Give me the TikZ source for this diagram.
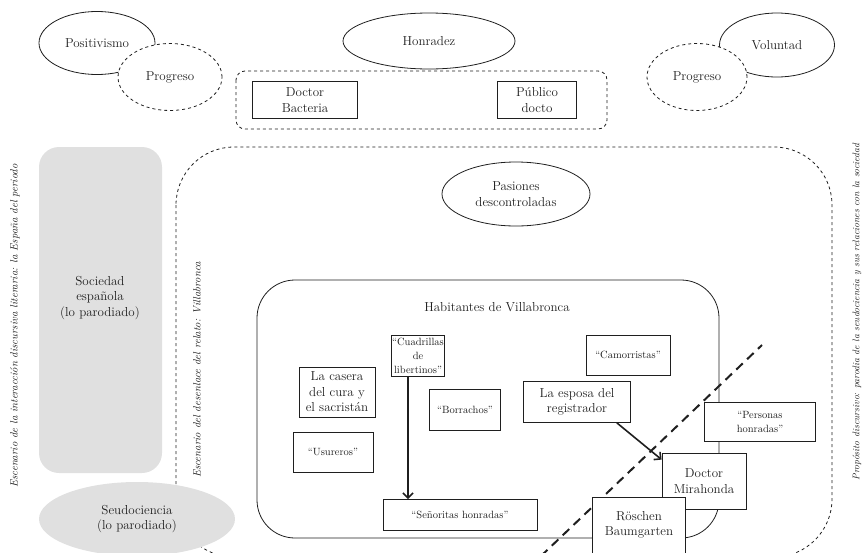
\documentclass[tikz,border=0pt]{standalone}
\usepackage{fontspec}
\usepackage{tikz}
\usetikzlibrary{arrows.meta, positioning, shapes.geometric}
\definecolor{paleGray}{gray}{0.88}
\definecolor{ink}{gray}{0.12}

\begin{document}
\begin{tikzpicture}[x=1pt, y=-1pt,
      bigfont/.style={font=\fontsize{13}{15.5}\selectfont},
      smallfont/.style={font=\fontsize{10.5}{14}\selectfont},
      oval/.style={ellipse, draw=ink, line width=.8pt, inner sep=0pt, align=center, text=ink, bigfont},
      dashoval/.style={oval, dashed, fill=white},
      card/.style={rectangle, draw=ink, line width=.8pt, fill=white, inner sep=1pt, align=center, text=ink},
      side/.style={rotate=90, text=ink, font=\fontsize{10.6}{12}\selectfont\itshape},
      arrow/.style={-{Straight Barb[length=5pt, width=10pt]}, line width=1.6pt, draw=ink}
    ]
    \useasboundingbox (0,0) rectangle (862,552);

    % ideas above the story
    \node[oval, minimum width=116pt, minimum height=63pt] (posit) at (97,43) {Positivismo};
    \node[dashoval, minimum width=104pt, minimum height=67pt] (progL) at (170,77) {Progreso};
    \node[oval, minimum width=172pt, minimum height=56pt] (honr) at (429,41) {Honradez};
    \node[oval, minimum width=115pt, minimum height=64pt] (volun) at (777,45) {Voluntad};
    \node[dashoval, minimum width=100pt, minimum height=67pt] (progR) at (697,77) {Progreso};

    \draw[ink, dashed, line width=.8pt, rounded corners=9pt] (236,71) rectangle (607,129);
    \node[card, bigfont, minimum width=105pt, minimum height=37pt] (bact) at (305,100) {Doctor\\Bacteria};
    \node[card, bigfont, minimum width=79pt, minimum height=37pt] (publ) at (537,100) {Público\\docto};

    % scenes
    \draw[ink, dashed, line width=.8pt, rounded corners=58pt] (176,147) rectangle (832,557);
    \fill[paleGray, rounded corners=20pt] (39,147) rectangle (162,473);
    \node[bigfont, align=center, text=ink] (soc) at (100,298) {Sociedad\\española\\(lo parodiado)};
    \node[ellipse, fill=paleGray, inner sep=0pt, minimum width=196pt, minimum height=74pt, align=center, text=ink, bigfont] (seud) at (137,519) {Seudociencia\\(lo parodiado)};
    \node[oval, minimum width=148pt, minimum height=64pt] (pas) at (516,194) {Pasiones\\descontroladas};

    % Villabronca
    \draw[ink, line width=.8pt, rounded corners=38pt] (257,280) rectangle (719,538);
    \node[bigfont, text=ink] (hab) at (497,307) {Habitantes de Villabronca};
    \coordinate (cutLow) at (541,556);
    \coordinate (cutHigh) at (762,345);
    \draw[ink, line width=2pt, dash pattern=on 9pt off 6pt] (cutLow) -- (cutHigh);

    \node[card, smallfont, minimum width=51pt, minimum height=41pt] (cuad) at (418,356) {“Cuadrillas\\de\\libertinos”};
    \node[card, bigfont, minimum width=76pt, minimum height=50pt] (cas) at (337,392) {La casera\\del cura y\\el sacristán};
    \node[card, smallfont, minimum width=71pt, minimum height=41pt] (borr) at (465,410) {“Borrachos”};
    \node[card, smallfont, minimum width=80pt, minimum height=40pt] (usur) at (333,452) {“Usureros”};
    \node[card, smallfont, minimum width=154pt, minimum height=31pt] (seno) at (460,515) {“Señoritas honradas”};
    \node[card, smallfont, minimum width=84pt, minimum height=40pt] (camo) at (628,355) {“Camorristas”};
    \node[card, bigfont, minimum width=107pt, minimum height=41pt] (espo) at (577,402) {La esposa del\\registrador};
    \node[card, smallfont, minimum width=111pt, minimum height=39pt] (pers) at (760,422) {“Personas\\honradas”};
    \node[card, bigfont, minimum width=84pt, minimum height=56pt] (mira) at (704,481) {Doctor\\Mirahonda};
    \node[card, bigfont, minimum width=93pt, minimum height=56pt] (rosch) at (639,525) {Röschen\\Baumgarten};

    \draw[arrow] ([xshift=-10pt]cuad.south) -- ([xshift=-10pt]cuad.south |- seno.north);
    \draw[arrow] ([xshift=-14pt]espo.south east) -- ([yshift=-7pt]mira.north west);

    % side captions
    \node[side] (scenL) at (15,326) {Escenario de la interacción discursiva literaria: la España del periodo};
    \node[side] (scenM) at (197,370) {Escenario del desenlace del relato: Villabronca};
    \node[side, font=\fontsize{9.6}{11}\selectfont\itshape] (purp) at (857,312) {Propósito discursivo: parodia de la seudociencia y sus relaciones con la sociedad};

    \end{tikzpicture}
\end{document}
